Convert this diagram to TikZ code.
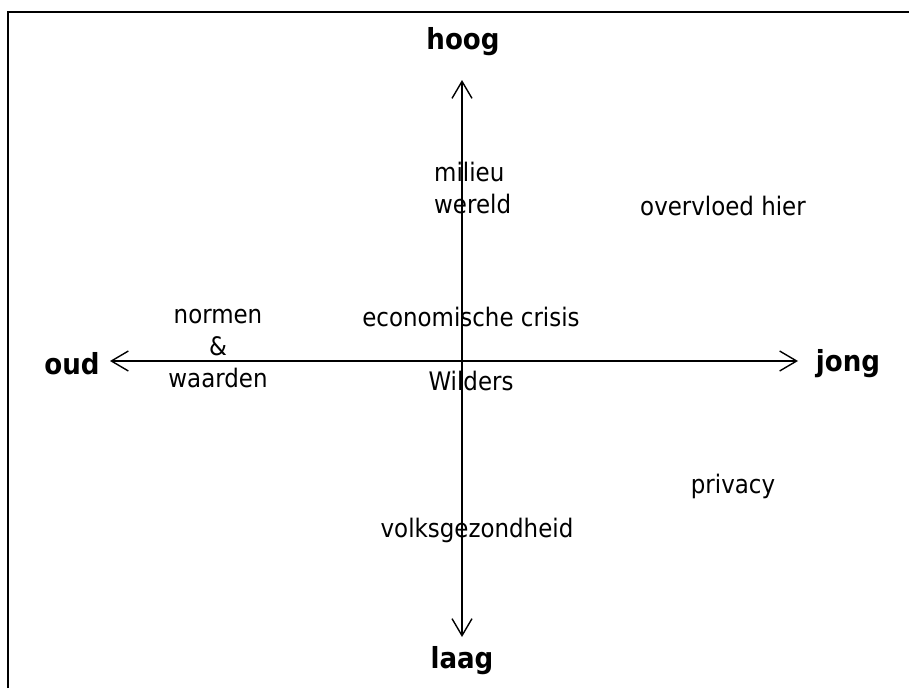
\documentclass[tikz,border=0pt]{standalone}
\usepackage{fontspec}
\setmainfont{DejaVu Sans Condensed}
\usepackage{tikz}
\usetikzlibrary{arrows.meta}

\tikzset{
	label/.style={font=\fontsize{25.5}{32}\selectfont, align=center, inner sep=0pt},
	pole/.style={font=\fontsize{29}{34}\selectfont\bfseries, inner sep=0pt},
	axis/.style={line width=1.4pt, {Straight Barb[length=17pt,width=20pt]}-{Straight Barb[length=17pt,width=20pt]}}
}

\begin{document}
\begin{tikzpicture}[x=1pt,y=-1pt]
		\useasboundingbox (0,0) rectangle (909,688);
		\draw[line width=2pt] (8,688) -- (8,12) -- (909,12);
		
		\coordinate (top) at (462,80);
		\coordinate (bottom) at (462,637);
		\coordinate (left) at (110,361);
		\coordinate (right) at (798,361);
		\draw[axis] (bottom) -- (top);
		\draw[axis] (left) -- (right);
		
		\node[pole] (hoog) at (463,42) {hoog};
		\node[pole] (laag) at (462,661) {laag};
		\node[pole] (oud) at (72,364) {oud};
		\node[pole] (jong) at (848,364) {jong};
		
		\node[label, align=left, anchor=west] (milieu) at (434,188) {milieu\\wereld};
		\node[label] (overvloed) at (723,206) {overvloed hier};
		\node[label] (normen) at (218,349) {normen\\\&\\waarden};
		\node[label] (crisis) at (471,317) {economische crisis};
		\node[label] (wilders) at (471,381) {Wilders};
		\node[label] (privacy) at (733,486) {privacy};
		\node[label] (volk) at (477,530) {volksgezondheid};
	\end{tikzpicture}
\end{document}
